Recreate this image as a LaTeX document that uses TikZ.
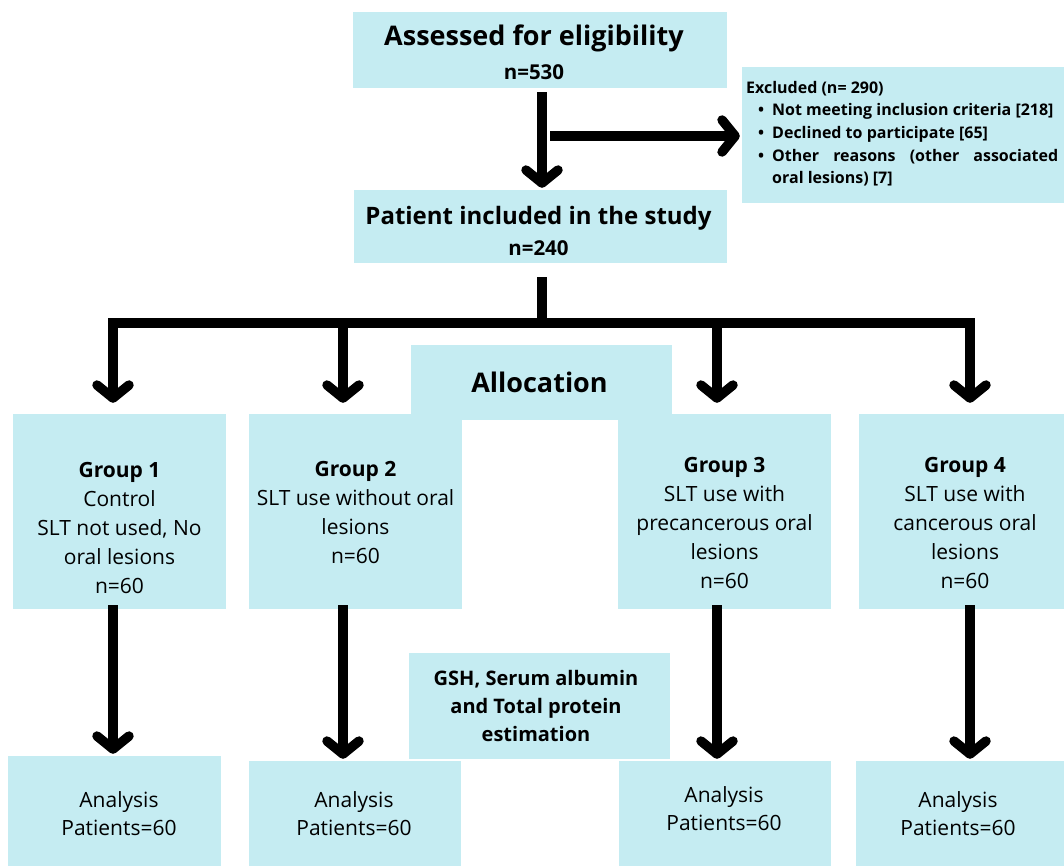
\documentclass[tikz,border=0pt]{standalone}
\usepackage{fontspec}
\setmainfont{Open Sans}
\usetikzlibrary{arrows.meta}
\definecolor{boxcol}{HTML}{C5ECF2}
\tikzset{
  box/.style={fill=boxcol, inner sep=0pt},
  flow/.style={line width=9.5pt, -{Straight Barb[length=13pt,width=32pt,line cap=round,line join=round]}},
  bar/.style={line width=9.5pt, line cap=rect},
  head/.style={font=\bfseries\fontsize{27}{34}\selectfont, align=center, inner sep=0pt},
  grptxt/.style={font=\fontsize{21}{29}\selectfont, align=center, inner sep=0pt},
  anltxt/.style={font=\fontsize{21}{28}\selectfont, align=center, inner sep=0pt},
}
\begin{document}
\begin{tikzpicture}[x=1pt,y=-1pt]
	\useasboundingbox (0,0) rectangle (1064,866);
	% boxes
	\node[box, minimum width=374pt, minimum height=76pt] (assess) at (540,50) {};
	\node[box, minimum width=373pt, minimum height=73pt] (incl) at (540.5,226.5) {};
	\node[box, minimum width=322pt, minimum height=136pt] (excl) at (903,135) {};
	\node[box, minimum width=261pt, minimum height=75pt] (alloc) at (541.5,382.5) {};
	\node[box, minimum width=213pt, minimum height=195pt] (g1) at (119.5,511.5) {};
	\node[box, minimum width=213pt, minimum height=195pt] (g2) at (355.5,511.5) {};
	\node[box, minimum width=213pt, minimum height=195pt] (g3) at (724.5,511.5) {};
	\node[box, minimum width=205pt, minimum height=195pt] (g4) at (961.5,511.5) {};
	\node[box, minimum width=261pt, minimum height=106pt] (est) at (539.5,706) {};
	\node[box, minimum width=213pt, minimum height=110pt] (an1) at (114.5,811) {};
	\node[box, minimum width=212pt, minimum height=105pt] (an2) at (355,813.5) {};
	\node[box, minimum width=212pt, minimum height=105pt] (an3) at (725,813.5) {};
	\node[box, minimum width=208pt, minimum height=105pt] (an4) at (960,813.5) {};

	% texts
	\node[head] (assesstxt) at (534,52) {Assessed for eligibility\\{\fontsize{20.5}{34}\selectfont n=530}};
	\node[head, font=\bfseries\fontsize{24}{31}\selectfont] (incltxt) at (538.5,231) {Patient included in the study\\{\fontsize{20.5}{31}\selectfont n=240}};
	\node[anchor=north west, inner sep=0pt, font=\bfseries\fontsize{16}{22.7}\selectfont] (excltxt) at (746,77) {%
		\begin{tabular}{@{}l@{\hspace{8pt}}l@{}}
		\multicolumn{2}{@{}l}{Excluded (n= 290)}\\
		\hspace{12pt}\textbullet & Not meeting inclusion criteria [218]\\
		\hspace{12pt}\textbullet & Declined to participate [65]\\
		\hspace{12pt}\textbullet & \makebox[286pt][s]{Other reasons (other associated}\\
		 & oral lesions) [7]
		\end{tabular}};
	\node[head] (alloctxt) at (539.5,382) {Allocation};
	\node[grptxt] (g1txt) at (119.5,527.5) {\textbf{Group 1}\\Control\\SLT not used, No\\oral lesions\\n=60};
	\node[grptxt] (g2txt) at (355.5,512) {\textbf{Group 2}\\SLT use without oral\\lesions\\n=60};
	\node[grptxt] (g3txt) at (724.5,523) {\textbf{Group 3}\\SLT use with\\precancerous oral\\lesions\\n=60};
	\node[grptxt] (g4txt) at (965,523) {\textbf{Group 4}\\SLT use with\\cancerous oral\\lesions\\n=60};
	\node[head, font=\bfseries\fontsize{20}{28}\selectfont] (esttxt) at (536,706) {GSH, Serum albumin\\and Total protein\\estimation};
	\node[anltxt] (an1txt) at (119,814) {Analysis\\Patients=60};
	\node[anltxt] (an2txt) at (354,814) {Analysis\\Patients=60};
	\node[anltxt] (an3txt) at (724,809) {Analysis\\Patients=60};
	\node[anltxt] (an4txt) at (958,814) {Analysis\\Patients=60};

	% connectors
	\coordinate (branch) at (550,136);
	\coordinate (split) at (542,323);
	\coordinate (c1) at (113,323);
	\coordinate (c2) at (343,323);
	\coordinate (c3) at (717,323);
	\coordinate (c4) at (970,323);
	\draw[flow, shorten <=4pt, shorten >=2pt] (assess.south -| split) -- (incl.north -| split);
	\draw[flow, shorten >=2pt] (branch) -- (excl.west |- branch);
	\draw[line width=9.5pt, shorten <=14pt] (incl.south -| split) -- (split);
	\draw[bar] (c1) -- (c4);
	\foreach \i in {1,...,4}
		\draw[flow, shorten >=11pt] (c\i) -- (c\i |- g\i.north);
	\foreach \i in {1,...,4}
		\draw[flow, shorten <=-4pt, shorten >=2pt] (g\i.south -| c\i) -- (an\i.north -| c\i);
\end{tikzpicture}
\end{document}
